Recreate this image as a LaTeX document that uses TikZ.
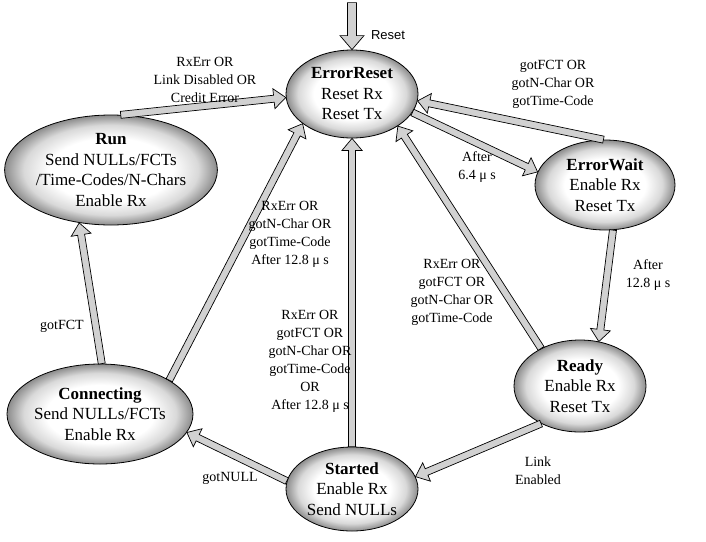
\documentclass[tikz,border=0pt]{standalone}
\usepackage{fontspec}
\setmainfont{Liberation Serif}
\newfontfamily\lsans{Liberation Sans}
\usetikzlibrary{shapes.geometric,calc}
\pgfdeclareradialshading{ellshade}{\pgfpoint{0bp}{0bp}}{color(0bp)=(white); color(14.5bp)=(white); color(20.5bp)=(black!15); color(25bp)=(black!45); color(50bp)=(black!45)}
\tikzset{
  state/.style={ellipse, draw, line width=0.8pt, shading=ellshade, align=center,
    font=\fontsize{17}{20.5}\selectfont, inner sep=0pt},
  lbl/.style={align=center, font=\fontsize{14}{18}\selectfont, inner sep=0pt},
  arrowlook/.style={fill=black!18, draw=black, line width=0.7pt, line join=miter},
  blockarrow/.style n args={3}{arrowlook,
    to path={(\tikztostart) coordinate (bS) (\tikztotarget) coordinate (bE)
      ($(bE)!#3!(bS)$) coordinate (bH)
      ($(bS)!#1!90:(bE)$) -- ($(bH)!#1!-90:(bS)$) -- ($(bH)!#2!-90:(bS)$)
      -- (bE) -- ($(bH)!#2!90:(bS)$) -- ($(bH)!#1!90:(bS)$)
      -- ($(bS)!#1!-90:(bE)$) -- cycle}},
  barrow/.style={blockarrow={3.5pt}{10pt}{12pt}}
}
\begin{document}
\begin{tikzpicture}[x=1pt,y=-1pt]
\useasboundingbox (0,0) rectangle (706,541);
% states
\node[state, minimum width=132pt, minimum height=88pt] (er) at (352,94)
  {\textbf{ErrorReset}\\Reset Rx\\Reset Tx};
\node[state, minimum width=212pt, minimum height=110pt] (run) at (111,170)
  {\textbf{Run}\\Send NULLs/FCTs\\/Time-Codes/N-Chars\\Enable Rx};
\node[state, minimum width=140pt, minimum height=90pt] (ew) at (605,185)
  {\textbf{ErrorWait}\\Enable Rx\\Reset Tx};
\node[state, minimum width=132pt, minimum height=92pt] (ready) at (580,386)
  {\textbf{Ready}\\Enable Rx\\Reset Tx};
\node[state, minimum width=132pt, minimum height=84pt] (st) at (352,489)
  {\textbf{Started}\\Enable Rx\\Send NULLs};
\node[state, minimum width=182pt, minimum height=100pt] (con) at (100,414)
  {\textbf{Connecting}\\Send NULLs/FCTs\\Enable Rx};
% reset arrow (free start above ErrorReset)
\coordinate (rs) at ($(er.north)+(0,-47)$);
\draw[arrowlook] ($(rs)+(-4.5,0)$) -- ($(er.north)+(-4.5,-14)$) -- ($(er.north)+(-12,-14)$)
  -- (er.north) -- ($(er.north)+(12,-14)$) -- ($(er.north)+(4.5,-14)$)
  -- ($(rs)+(4.5,0)$) -- cycle;
% connectors
\draw[barrow] (run.80) to (er.183);
\draw[barrow] (ew.92) to (er.-6);
\draw[barrow] (er.-17) to (ew.169);
\draw[barrow] (ew.-80) to (ready.67);
\draw[barrow] (ready.136) to (er.-35);
\draw[barrow] (ready.224) to (st.11);
\draw[barrow] (st.173) to (con.-12);
\draw[barrow] (st.north) to (er.south);
\draw[barrow] (con.26) to (er.211);
\draw[barrow] (con.88) to (run.-121);
% labels
\node[lbl, font=\lsans\fontsize{13}{16}\selectfont] (lreset) at (388,35) {Reset};
\node[lbl] (l2) at (205,80) {RxErr OR\\Link Disabled OR\\Credit Error};
\node[lbl] (l3) at (553,84) {gotFCT OR\\gotN-Char OR\\gotTime-Code};
\node[lbl] (l4) at (477,167) {After\\6.4 μ s};
\node[lbl] (l5) at (648,275) {After\\12.8 μ s};
\node[lbl] (l6) at (452,292) {RxErr OR\\gotFCT OR\\gotN-Char OR\\gotTime-Code};
\node[lbl] (l7) at (538,471) {Link\\Enabled};
\node[lbl] (l8) at (230,478) {gotNULL};
\node[lbl] (l9) at (310,361) {RxErr OR\\gotFCT OR\\gotN-Char OR\\gotTime-Code\\OR\\After 12.8 μ s};
\node[lbl] (l10) at (290,234) {RxErr OR\\gotN-Char OR\\gotTime-Code\\After 12.8 μ s};
\node[lbl] (l11) at (62,326) {gotFCT};
\end{tikzpicture}
\end{document}
